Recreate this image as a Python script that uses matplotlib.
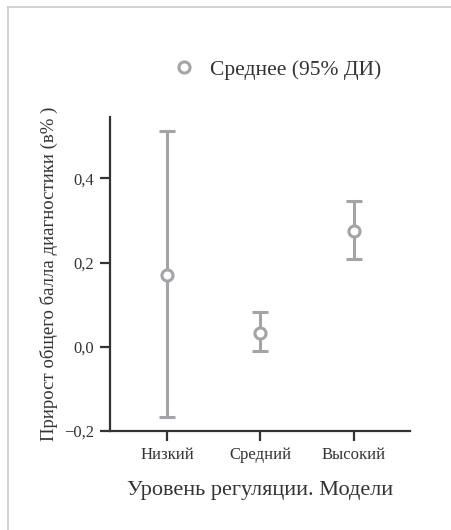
import numpy as np
import matplotlib.pyplot as plt
from matplotlib.lines import Line2D

# regulation levels and mean gain with 95% CI bounds
levels = ["Низкий", "Средний", "Высокий"]
means = [0.171, 0.033, 0.276]
ci_low = [-0.166, -0.010, 0.209]
ci_high = [0.513, 0.083, 0.347]

yticks = [-0.2, 0.0, 0.2, 0.4]
ytick_labels = ["\u22120,2", "0,0", "0,2", "0,4"]

plt.rcParams['font.family'] = ['Liberation Serif', 'DejaVu Serif']

grey = "#a4a4a8"
dark = "#333333"

fig = plt.figure(figsize=(4.52, 5.30), dpi=100)
ax = fig.add_axes([0.2434, 0.1868, 0.6636, 0.5925])

x = np.arange(len(levels))
means = np.array(means)
err = np.array([means - np.array(ci_low), np.array(ci_high) - means])
ax.errorbar(x, means, yerr=err, fmt='o', color=grey, ecolor=grey,
            elinewidth=2.2, capsize=5.5, capthick=2.2,
            markersize=8, markerfacecolor='white', markeredgewidth=2.2,
            markeredgecolor=grey, zorder=3)

ax.set_xlim(-0.61, 2.6)
ax.set_ylim(-0.2, 0.546)
ax.set_xticks(x)
ax.set_xticklabels(levels, fontsize=12, color=dark)
ax.set_yticks(yticks)
ax.set_yticklabels(ytick_labels, fontsize=12, color=dark)

for side in ['top', 'right']:
    ax.spines[side].set_visible(False)
for side in ['left', 'bottom']:
    ax.spines[side].set_color(dark)
    ax.spines[side].set_linewidth(1.6)
ax.tick_params(axis='both', colors=dark, width=1.6, length=7.5, pad=4)
ax.tick_params(axis='both', labelcolor=dark)

ax.set_xlabel("Уровень регуляции. Модели", fontsize=16, color=dark)
ax.xaxis.set_label_coords(0.5, -0.16)
ax.set_ylabel("Прирост общего балла диагностики (в% )", fontsize=13.5, color=dark)
ax.yaxis.set_label_coords(-0.175, 0.5)

handle = Line2D([], [], linestyle='none', marker='o', markersize=8,
                markerfacecolor='white', markeredgecolor=grey, markeredgewidth=2.2)
fig.legend([handle], ["Среднее (95% ДИ)"], loc='center', bbox_to_anchor=(0.602, 0.868),
           frameon=False, fontsize=15.5, handletextpad=0.2, labelcolor=dark)

# thin frame along the top and left edges
fig.add_artist(Line2D([8/452, 1], [1 - 7/530, 1 - 7/530], color="#cccccc", lw=1.2,
                      transform=fig.transFigure))
fig.add_artist(Line2D([8/452, 8/452], [0, 1 - 7/530], color="#cccccc", lw=1.2,
                      transform=fig.transFigure))

fig.savefig("out.png", dpi=100)
